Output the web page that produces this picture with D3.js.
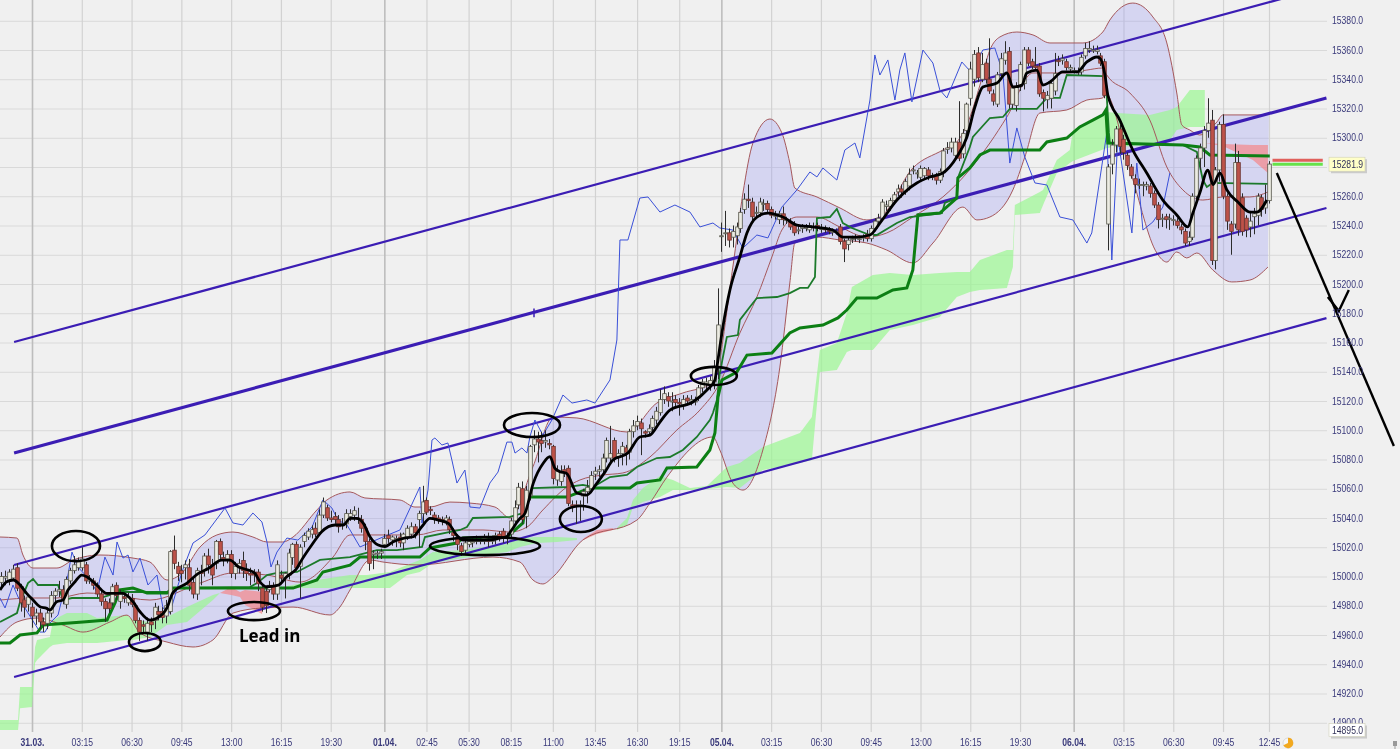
<!DOCTYPE html>
<html>
<head>
<meta charset="utf-8">
<script src="https://cdn.jsdelivr.net/npm/d3@7/dist/d3.min.js"></script>
<style>
html,body{margin:0;padding:0;background:#f0f0f0;overflow:hidden}
svg{display:block;filter:blur(0.35px)}
</style>
</head>
<body>
<svg id="chart" width="1400" height="749"></svg>
<script>
// All prices below are points above this base; time is session hours since 31.03. open
const priceBase = 15000;
const priceTicks = d3.range(14900, 15381, 20);
const timeTicks = [0,3.25,6.5,9.75,13,16.25,19.5,23,25.75,28.5,31.25,34,36.75,39.5,42.25,45,48.25,51.5,54.75,58,61.25,64.5,68,71.25,74.5,77.75,80.75];
const timeLabels = ["31.03.","03:15","06:30","09:45","13:00","16:15","19:30","01.04.","02:45","05:30","08:15","11:00","13:45","16:30","19:15","05.04.","03:15","06:30","09:45","13:00","16:15","19:30","06.04.","03:15","06:30","09:45","12:45"];
const dayLabels = ["31.03.","01.04.","05.04.","06.04."];

// candles every 15 min: [open, close, high, low]
const candlesBefore = [[-4,0,3,-8],[-1,0,4,-6],[-3,3,5,-6],[-1,5,8,-3],[6,-8,9,-10],[-7,-18,-5,-24],[-16,-21,-13,-28],[-19,-14,-12,-24]];
const candles3103 = [
[-21,-27,-18,-35],[-27,-25,-22,-33],[-25,-31,-22,-36],[-31,-33,-28,-38],[-32,-25,-22,-36],[-25,-13,-10,-28],[-13,-10,-8,-18],[-10,-9,-3,-14],[-9,-16,-6,-19],[-19,-2,0,-22],
[-3,4,6,-5],[4,8,14,2],[6,10,13,4],[6,12,20,4],[8,-3,10,-5],[-3,-2,1,-5],[-3,-6,-1,-9],[-6,-12,-4,-14],[-12,-17,-9,-20],[-17,-22,-15,-31],
[-18,-22,-15,-25],[-18,-7,-5,-20],[-6,-13,-4,-16],[-17,-11,-9,-22],[-14,-15,-11,-18],[-18,-14,-11,-20],[-15,-19,-12,-21],[-20,-30,-18,-32],[-30,-38,-28,-44],[-33,-34,-30,-38],
[-38,-32,-28,-44],[-31,-33,-28,-38],[-30,-21,-18,-36],[-24,-26,-20,-30],[-24,-28,-21,-32],[-27,-20,-16,-32],
[-24,17,18,-26],[18,9,28,5],[7,2,10,-3],[4,2,8,-4],[6,8,11,-2],[6,-6,12,-10],[-4,-12,-1,-15],[-12,4,6,-16],[3,2,8,-6],[4,14,16,0],
[14,8,19,2],[8,1,12,-6],[9,24,25,5],[24,15,26,12],[13,11,17,7],[12,15,18,9],[15,2,18,-1],[2,7,10,-2],[6,9,12,2],[11,4,17,-1],
[4,2,9,-3],[2,1,6,-6],[3,1,5,-4],[3,-5,5,-10],[-8,-21,-5,-24],[-10,-20,-8,-25],[-9,-6,-3,-11],[-6,-12,-4,-16],[-12,8,11,-16],[1,-1,4,-5],
[-1,2,3,-15],[1,16,19,-2],[13,22,23,8],[22,6,24,4],[7,20,22,-15],[24,28,30,20],[27,31,33,25],[29,32,35,26],[33,29,37,27],[30,42,46,28],
[42,51,54,40],[47,40,49,38],[40,39,45,37],[41,39,44,36],[39,34,42,30],[35,36,40,32],[36,43,46,33],[41,43,46,38],[42,45,48,38],
[40,39,47,36],[39,33,42,30],[33,24,36,18],[24,9,26,4],[15,16,18,5],[16,16,18,12],[16,17,19,12]];
const candles0104 = [
[22,26,29,20],[28,26,32,23],[25,27,28,21],[25,26,28,20],[27,23,30,20],[23,29,30,18],[27,33,35,25],[29,34,37,26],[34,30,36,26],[39,43,45,20],
[43,51,62,35],[52,44,54,42],[46,45,48,42],[42,39,44,36],[40,39,42,36],[39,38,41,35],[38,40,42,35],[39,32,41,29],[30,28,33,24],[27,22,29,18],
[21,17,23,14],[18,23,25,15],[22,24,26,20],[23,24,27,20],[24,25,28,22],[24,25,27,22],[24,26,29,22],[25,24,30,20],[24,25,28,22],[25,28,30,22],
[29,27,31,24],[31,26,33,23],[27,26,30,22],[29,38,40,27],[38,47,52,35],[49,61,64,46],[60,39,65,36],[41,59,62,33],[55,89,90,52],[90,94,100,85],
[94,92,99,78],[93,91,99,85],[92,93,100,88],[91,90,94,87],[89,67,90,63],[66,72,76,62],[65,72,76,62],[73,71,76,68],[74,50,76,48],[49,48,52,44],
[49,48,52,36],[48,49,52,38],
[55,58,60,45],[58,61,66,50],[60,69,72,57],[70,72,75,66],[72,73,76,68],[73,81,84,70],[81,93,95,78],[81,84,103,78],[93,81,95,78],[82,84,87,75],
[84,89,92,76],[88,85,90,76],[85,99,101,80],[99,103,107,95],[103,106,110,100],[105,101,108,83],[99,98,100,95],[99,101,104,96],[102,108,110,98],[107,113,116,104],
[112,121,128,110],[121,125,130,118],[123,120,126,116],[120,120,126,113],[121,119,124,116],[119,118,122,110],[117,121,124,114],[122,120,124,117],[120,121,124,117],[120,120,123,117],
[122,129,131,120],[129,133,135,126],[132,133,136,128],[131,134,137,127],[133,143,148,128],[143,172,197,135]];
const candles0504 = [
[233,233,242,222],[235,235,250,226],[235,230,238,225],[232,236,240,225],[233,239,242,227],[238,249,252,235],[251,258,262,248],[258,257,268,252],[256,246,259,243],[249,249,253,245],
[249,256,259,246],[255,255,258,250],[255,251,257,248],[251,247,253,245],[247,247,250,244],[244,248,250,241],[248,244,253,240],[244,244,246,241],[242,239,245,237],[240,235,243,233],
[237,237,240,234],[238,239,241,235],[238,239,241,236],[237,240,242,235],[239,239,242,236],[240,238,242,236],[238,238,241,235],[238,237,240,235],[237,236,239,234],[236,236,238,233],
[236,236,238,234],[239,229,241,227],[229,224,231,215],[227,230,232,223],[231,231,233,228],[232,232,234,229],[231,231,233,228],[232,232,234,229],[234,231,237,229],[231,238,240,229],
[238,243,245,236],[243,245,248,241],[245,256,258,243],[253,254,257,250],[253,257,259,250],[257,261,263,254],[263,265,268,260],[265,263,268,259],[263,270,272,261],
[267,275,279,264],[278,278,281,275],[276,276,278,272],[273,279,281,271],[274,279,280,272],[278,274,280,271],[274,273,276,271],[274,271,276,268],[271,277,279,269],[276,291,293,273],
[292,293,297,289],[293,297,300,290],[288,297,300,285],[297,286,325,284],[289,303,306,286],[305,323,324,298],[327,347,352,322],[340,357,360,335],[358,341,362,338],[340,350,358,338],
[351,340,354,337],[340,332,368,330],[330,325,333,322],[323,343,345,321],[344,354,358,340],[353,358,366,350],[359,323,362,320],[323,334,336,320],[322,335,338,318],[335,350,352,332],
[337,360,362,333],[360,351,362,349],[352,349,354,347],[349,348,362,346],[349,330,351,328],[331,327,333,318],[326,329,332,320],[327,337,339,320],[332,344,358,329],[353,352,356,349],
[353,354,357,350],[352,348,354,346],[347,348,350,345]];
const candles0604 = [
[346,346,348,344],[345,345,348,343],[345,355,357,343],[356,361,365,354],[360,361,366,358],[360,360,363,358],[359,360,363,357],[356,351,358,349],[352,329,354,327],
[241,280,282,223],[282,295,299,275],[295,306,308,290],[306,294,309,289],[299,290,302,285],[288,281,290,278],[280,274,282,272],[272,268,275,262],[268,268,272,265],[268,268,270,260],
[267,268,270,264],[267,262,269,259],[262,254,264,252],[254,244,256,238],[245,245,248,239],[246,244,248,238],[245,245,248,237],[244,244,247,240],[243,240,245,238],[239,237,241,234],
[236,228,238,226],[229,232,236,226],[232,260,262,230],[260,286,288,258],[286,293,296,278],[293,305,308,280],[305,310,327,300],[312,216,319,213],[216,278,280,210],[278,309,311,270],
[309,260,316,258],[260,243,262,237],[241,236,243,220],[241,283,296,238],[283,237,291,233],[259,236,262,233],[245,237,247,232],[239,243,250,232],[246,248,252,234],[247,260,262,240],
[259,251,261,246],[252,256,268,248],[257,282,284,255]];

// Bollinger bands: [hour, points]
const bandUpper = [[-2.09,27],[-.98,26.3],[-.59,14.7],[.07,5.8],[1.63,5.8],[2.68,11.3],[3.33,13.3],[4.44,14.7],[6.59,12.6],[7.7,9.9],[8.81,-2.4],[9.79,2.4],[10.97,20.2],[12.07,28.4],[13.12,30.4],[14.42,27],[15.34,23.6],[16.38,23.6],[17.04,27],[18.6,45.5],[19.25,52.3],[20.76,57.8],[21.73,53.7],[24.02,52.3],[25,47.5],[25.98,47.5],[27.28,50.9],[28.59,50.2],[30.22,47.5],[31.2,40],[32.7,75],[34,109],[35.57,108.4],[38.84,98.8],[40.79,118.6],[42.49,125.5],[44.45,132.3],[45.75,211.6],[46.41,262.2],[47.06,296.4],[48.17,312.8],[48.95,303.3],[49.47,282.7],[49.8,265.6],[51.24,259.5],[52.74,252],[54.5,243.8],[55.35,245.8],[57.5,279.3],[59.46,291.6],[60.37,297.1],[61.03,308.7],[61.88,336],[62.53,360],[63.18,368.9],[64.29,372.3],[65.34,370.3],[66.45,364.8],[68.6,364.8],[69.9,372.3],[70.36,380.5],[71.86,392.1],[73.17,382.6],[74.08,364.8],[74.73,330.6],[75.06,308.7],[75.58,305.3],[76.23,301.9],[77.35,310.8],[77.74,315.6],[80.35,315.6],[80.74,316.9]];
const bandLower = [[-2.09,-41.4],[-.98,-31.1],[.33,-28.4],[2.02,-33.2],[3.33,-38],[5.09,-31.1],[6.2,-26.4],[7.05,-38.6],[8.81,-44.8],[10.51,-48.2],[11.81,-43.4],[13.12,-25],[15.08,-21.5],[17.04,-20.9],[19.45,-26.3],[20.1,-20.9],[20.76,-9.2],[22.06,11.3],[22.91,9.9],[25.13,7.9],[30.09,13.3],[31.85,9.9],[32.7,-2.4],[33.35,-5.1],[34,-.4],[35.96,25],[39.49,38.6],[40.34,50.2],[41.45,68],[44.45,95.4],[44.9,86.5],[45.75,63.9],[46.41,59.1],[47.71,86.5],[48.82,143.2],[49.47,200.7],[49.8,228],[51.24,232.1],[52.74,230.1],[54.5,228],[55.8,223.2],[57.5,214.4],[58.81,228],[60.77,252.6],[61.68,243.8],[62.53,245.8],[64.03,264.3],[64.81,286.8],[65.79,316.9],[67.55,319],[68.86,325.8],[69.9,327.2],[70.04,330.6],[71.73,275.9],[73.43,221.2],[74.08,215],[74.73,221.9],[75.38,217.8],[76.04,221.2],[77.08,209.6],[78.32,201.4],[79.5,202.7],[80.68,211.6]];
const bandMiddle = [[-2.09,-16.1],[.07,-14.7],[1.63,-14.7],[3.59,-11.3],[5.29,-12.7],[7.7,-16.1],[10.97,-4.5],[13.12,2.4],[15.34,1],[17.49,-3.8],[19.65,13.3],[20.76,28.4],[23.37,28.4],[25.13,28.4],[26.83,31.8],[29.44,31.8],[31.2,30.4],[32.31,33.8],[33.35,45.5],[34.92,61.2],[35.77,66],[37.27,69.4],[38.57,70.8],[40.34,81.7],[42.1,100.2],[43.6,113.8],[44.9,132.3],[46.21,166.5],[47.32,191.1],[48.3,218.5],[48.95,236.9],[49.93,245.8],[51.24,245.8],[52.74,239],[54.5,232.1],[55.8,234.9],[57.5,245.8],[59.46,259.5],[61.03,275.9],[62.53,296.4],[63.64,314.2],[65.34,344.3],[67.55,344.3],[68.86,346.3],[69.9,347.7],[70.16,342.9],[71.67,330.6],[72.97,312.1],[74.08,280],[75.13,264.3],[76.43,257.4],[77.74,259.5],[79.5,259.5],[80.68,262.9]];

// fast moving average (black)
const fastAverage = [[-2.09,-9.3],[-1.65,-3.6],[-1.22,-2.4],[-.78,-5.8],[-.35,-11.5],[.07,-16.1],[.52,-20.7],[.96,-21.8],[1.17,-22.9],[1.61,-17.2],[2.02,-16.1],[2.35,-9.3],[2.81,-3.6],[3.24,1],[3.57,-.1],[4.22,-5.8],[4.87,-11.5],[5.53,-11.5],[5.94,-11.5],[6.59,-17.2],[7.05,-24.1],[7.7,-29.8],[8.14,-28.6],[8.81,-21.5],[9.2,-11],[10.12,-4.5],[10.86,2.1],[11.51,5.5],[12.38,11.2],[12.92,11.2],[13.47,6.7],[14.12,4.4],[14.56,2.1],[14.88,-3.6],[15.32,-7],[16.08,-5.9],[16.62,-.2],[17.28,5.5],[17.6,11.2],[18.26,21.5],[18.91,30.6],[19.78,35.2],[20.32,35.2],[20.76,39.7],[21.19,39.7],[21.63,36.3],[22.06,27.2],[22.6,21.5],[23.04,20.4],[23.58,23.8],[24.24,26.1],[24.89,27.2],[25.44,34],[25.98,39.7],[26.52,38.6],[27.18,36.3],[27.72,28.3],[28.15,24.9],[29.46,24.9],[30.98,27.2],[31.31,31.8],[31.85,39.7],[32.18,43.2],[32.72,63.7],[33.37,77.4],[33.81,81.9],[34.14,73.9],[34.46,71.7],[34.9,70.5],[35.57,57.1],[36.22,55.7],[36.88,63.9],[37.4,71.4],[37.92,79.6],[38.9,84.4],[39.68,95.4],[40.34,96.7],[40.99,105.6],[41.64,113.8],[43.14,119.3],[44.06,127.5],[44.58,134.4],[44.71,143.2],[45.1,170.6],[45.56,195.9],[46.21,218.5],[46.67,234.9],[47.32,245.8],[48.04,248.5],[49.02,245.8],[49.93,240.3],[50.98,239],[52.28,236.9],[52.93,232.1],[53.85,232.1],[54.7,233.5],[55.35,241.7],[56.46,257.4],[57.76,269.1],[58.61,273.2],[59.46,275.9],[60.37,286.8],[61.03,300.5],[61.55,321],[62.07,334.7],[62.99,337.4],[63.64,344.3],[64.03,334.7],[64.62,336],[64.94,344.3],[65.6,346.3],[65.99,336],[66.45,338.1],[67.29,345],[68.21,345],[68.86,351.8],[69.51,355.2],[69.71,354.5],[70.04,342.9],[70.23,329.2],[71.01,312.1],[71.86,291.6],[72.77,275.9],[73.82,257.4],[74.73,247.2],[75.45,239],[75.78,248.5],[76.23,262.2],[76.76,277.9],[77.1,268],[77.54,275.9],[78,264.3],[78.72,256.1],[79.5,249.2],[79.96,249.2],[80.61,257.4]];

// Ichimoku base line (thick green), conversion line (thin green), lagging span (blue)
const baseLine = [[-2.09,-45.5],[-1.44,-45.5],[-.78,-40],[.33,-38.6],[.72,-33.2],[3.33,-31.1],[4.9,-29.8],[5.42,-18.1],[5.74,-9.2],[6.59,-7.9],[7.51,-11.3],[8.81,-11.3],[9.2,-7.9],[17.04,-7.9],[18.6,-2.4],[18.99,3.1],[20.76,7.8],[21.41,13.3],[25.32,13.3],[25.98,19.5],[27.74,22.9],[28.13,26.3],[31,27],[32.05,36.6],[32.31,54.3],[34.92,54.3],[36.42,60.5],[39.03,60.5],[39.49,63.9],[40.99,66],[41.45,74.2],[43.4,74.9],[44.25,86.5],[44.58,98.1],[44.78,122.7],[45.04,134.4],[46.01,139.8],[46.67,151.4],[48.3,152.8],[49.47,166.5],[50.13,169.9],[51.63,171.9],[52.61,176.8],[53.19,182.2],[53.85,190.4],[55.15,190.4],[56.2,195.9],[57.11,197.3],[57.5,209.6],[57.83,247.2],[59.26,248.5],[60.37,258.8],[60.44,272.5],[61.22,279.3],[61.88,288.2],[62.53,291.6],[65.79,291.6],[66.25,297.1],[67.55,299.8],[68.4,307.4],[69.25,312.1],[69.9,315.6],[70.1,319],[70.23,296.4],[75.13,295],[76.23,293.7],[76.89,288.2],[80.8,287.5]];
const conversionLine = [[-2.09,-31.1],[-.98,-25],[-.78,-17.5],[-.26,-4.5],[.07,-1.7],[.39,-5.8],[1.7,-5.8],[2.02,-16.1],[2.61,-14.7],[4.44,-14.7],[5.74,-10.6],[9,-10.6],[9.2,-7.9],[14.23,-7.2],[14.69,-4.5],[15.34,1],[15.99,2.4],[17.3,3.1],[18.8,11.3],[20.76,13.3],[22.52,18.1],[23.82,18.1],[25.46,20.2],[25.65,27],[27.94,31.8],[28.39,33.8],[28.78,40],[31.2,40.7],[32.05,43.4],[32.5,57.1],[32.7,60.5],[34.92,61.2],[35.96,62.6],[36.62,61.2],[37.73,68],[38.84,69.4],[39.49,74.9],[40.79,81],[41.64,81.7],[42.49,86.5],[43.4,95.4],[44.25,107],[44.45,111.8],[44.71,120.7],[44.9,139.1],[45.36,163.8],[46.08,165.1],[46.21,175.4],[46.86,184.3],[47.32,190.4],[48.63,191.1],[49.47,193.8],[50.13,197.3],[50.65,197.3],[51.11,204.8],[51.24,245.1],[52.09,245.8],[52.54,251.3],[52.93,241.7],[53.52,238.3],[54.7,233.5],[55.15,233.5],[56.46,241.7],[57.31,245.8],[59.4,248.5],[59.59,255.4],[60.37,258.8],[60.44,272.5],[61.22,293.7],[61.42,300.5],[62.53,313.5],[63.38,314.2],[63.83,319.7],[65.6,319.7],[66.25,327.2],[67.1,327.2],[67.55,342.9],[69.9,342.2],[70.16,327.9],[70.3,303.3],[70.36,296.4],[75.13,295],[76.04,290.3],[76.43,271.1],[76.69,266.3],[77.08,269.1],[80.68,268.4]];
const laggingSpan = [[-2.09,-14.7],[-1.76,-21.5],[-1.24,-5.8],[-.91,-14],[.52,-38],[.85,-38],[1.17,-31.8],[1.7,-26.3],[2.02,-12.7],[2.35,1],[2.61,16.7],[2.99,6.5],[3.79,-2.4],[4.24,-10.6],[4.76,13.3],[5.29,1],[5.55,23.6],[5.94,12.6],[6.27,14.7],[6.59,3.1],[7.05,12.6],[7.57,-5.8],[8.16,1],[8.55,-21.5],[9,-25],[9.79,3.1],[10.51,22.9],[11.29,28.4],[12.6,46.8],[13.12,36.6],[13.77,35.2],[14.42,43.4],[15.01,37.3],[15.34,23.6],[15.6,6.5],[15.99,16.7],[16.64,26.3],[17.36,24.9],[18.28,33.8],[18.99,52.3],[19.58,46.8],[19.97,38.6],[20.56,35.2],[20.76,31.8],[21.41,20.2],[22.91,27],[24.02,31.8],[25.32,61.2],[25.46,36.6],[25.85,59.1],[26.11,93.3],[26.3,94.7],[26.76,89.9],[27.15,91.3],[27.41,79.6],[27.74,63.9],[28.26,72.8],[28.59,47.5],[29.24,46.8],[29.89,63.9],[30.42,71.4],[31,91.9],[31.33,91.9],[31.53,84.4],[31.98,87.9],[32.31,84.4],[32.5,95.4],[32.83,107],[33.35,96.7],[33.94,107],[34.66,124.1],[35.25,118.6],[36.22,120.7],[36.75,118.6],[37.73,134.4],[38.18,161.7],[38.38,230.1],[38.9,230.1],[39.68,258.8],[40.21,259.5],[40.99,249.2],[41.97,254],[42.95,249.2],[43.6,239],[44.45,241.7],[44.9,238.3],[45.75,236.9],[46.41,224.6],[47.32,233.5],[48.04,231.5],[48.95,252.6],[49.93,264.3],[50.78,276.6],[51.24,273.2],[51.63,279.3],[52.54,271.1],[53.06,291.6],[53.72,296.4],[54.04,286.2],[54.7,325.8],[55.02,356.6],[55.35,342.9],[55.87,353.2],[56.33,325.8],[56.65,346.3],[56.98,358],[57.44,324.5],[58.16,360],[58.81,351.1],[59.26,332.7],[59.72,327.2],[60.7,351.8],[61.35,344.3],[62.07,360],[62.85,361.4],[63.38,344.3],[63.83,282.7],[64.29,306.7],[64.81,286.8],[65.47,269.1],[66.25,267.7],[67.1,245.8],[67.95,243.8],[68.86,228],[69.18,234.9],[70.16,303.3],[70.49,216.4],[70.88,300.5],[71.8,234.9],[72.12,282.7],[72.52,236.9],[73.17,242.4],[73.82,252.6],[74.28,275.9]];

// Ichimoku cloud pieces: [hour, top, bottom]
const cloudGreen1 = [[-2.09,-98.1,-105],[-.91,-98.1,-105],[-.78,-75.6,-90],[0,-75.6,-89.3],[.2,-48.2,-59.2],[.33,-43.4,-57.1],[1.17,-41.4,-48.2],[1.37,-29.8,-46.8],[2.28,-25,-45.5],[3.59,-25,-45.5],[4.24,-28.4,-45.5],[6.2,-26.3,-43.4],[6.59,-29.8,-43.4],[7.7,-31.1,-41.4],[8.81,-27.7,-33.2],[10.12,-20.9,-31.1],[11.81,-12.7,-16.1],[12.27,-11.3,-11.3]];
const cloudRed1 = [[12.27,-11.3,-11.3],[13,-7.2,-12.7],[13.58,-10.6,-14],[13.9,-9.2,-19.5],[14.55,-9.9,-22.9],[15.01,-10.6,-25.7],[15.27,-13.4,-14]];
const cloudGreen2 = [[15.27,-9.2,-9.2],[16.38,-7.2,-7.9],[18.6,-2.4,-7.9],[20.76,1,-7.9],[21.87,1,-7.9],[23.37,3.1,-7.9],[24.48,7.9,1],[25.32,11.3,3.1],[26.17,16.7,9.2],[28.13,18.1,12.6],[31,22.2,16.7],[31.85,26.3,20.2],[32.96,27,22.9],[34.27,27,23.6],[35.57,26.3,25]];
const cloudRed2 = [[36,26,25],[36.88,31.8,29],[37.92,33.2,31.8]];
const cloudGreen3 = [[38.18,33.2,31.8],[38.84,40,35.2],[39.23,52.3,47.5],[39.88,60.5,50.9],[40.99,68.7,54.4],[41.84,66,59.1],[42.95,60.5,59.1],[44.06,61.9,59.8],[45.36,74.9,61.2],[46.21,77.6,60.5],[47.71,88.5,72.8],[50.13,98.1,77.6],[50.91,109,79.6],[51.43,154.9,139.8],[52.54,159.7,141.2],[53.19,180.2,153.5],[53.52,197.9,154.9],[54.89,206.2,154.9],[56,207.5,168.5],[57.5,206.2,171.9],[59.26,207.5,177.4],[60.37,208.2,191.1],[61.22,208.2,194.5],[61.88,216.4,195.9],[63.64,223.2,197.3],[64.03,223.2,211.6],[64.16,254,247.2],[65.79,262.9,248.5],[66,264.3,254],[66.9,284.8,275.9],[67.75,291.6,282.7],[67.95,305.3,284.1],[70.16,317.6,293],[70.82,316.9,293.7],[72.97,315.6,295],[74.28,319,298.5],[74.73,321,305.3],[75.58,332.7,307.4],[76.56,332.7,307.4]];
const cloudRed3 = [[76.56,296.4,296.4],[77.74,295.7,294.4],[79.7,295,284.8],[80.68,295,275.9]];

// parallel trend channels: [start hour, start points, end hour, end points]
const channels = [[-1.17,160.3,84.5,403.3],[-1.17,84.4,84.5,327.2],[-1.17,7.9,84.5,252],[-1.17,-68.7,84.5,176.7]];
const channelWidths = [2.2,3.2,2.2,2.2];

// hand-drawn annotations: [hour, points, hour radius, points radius]
const ellipses = [[2.87,20.8,1.57,10.3],[7.37,-44.8,1.04,6.2],[14.49,-23.6,1.7,6.2],[29.57,20.8,3.59,6.2],[35.83,39.3,1.37,8.9],[32.64,103.6,1.83,8.2],[44.51,137.1,1.5,6.2]];
const arrowShaft = [[81.26,275.9],[88.9,89.2]];
const arrowHead = [[84.59,191.1],[85.31,181.5],[85.96,195.9]];
const leadInLabel = ["Lead in", 13.51, -44.8];
const lastPrice = 15281.9;
const lowPrice = 14895.0;
const lastPriceLines = [[284.6,"#e0605c"],[281.9,"#66e24a"]];
const lastPriceSpan = [80.98,84.26];

const svg = d3.select("#chart");
const x = d3.scaleLinear().domain([0,80.75]).range([32,1269]);
const y = d3.scaleLinear().domain([14900,15380]).range([722.75,20.75]);
const py = v => y(priceBase + v);
const fontFam = "'Liberation Sans', Arial, sans-serif";
const left = 0, gridRight = 1327, gridBottom = 732, squeeze = 0.86;
const narrow = function(){
  this.setAttribute("textLength", this.getComputedTextLength()*squeeze);
  this.setAttribute("lengthAdjust","spacingAndGlyphs");
};

svg.append("rect").attr("width",1400).attr("height",749).attr("fill","#f0f0f0");

// grid via axes
const gridY = svg.append("g").call(d3.axisLeft(y).tickValues(priceTicks).tickSize(-gridRight).tickFormat(""))
  .attr("transform",`translate(${left},0)`);
gridY.select(".domain").remove();
gridY.selectAll("line").attr("stroke","#d9d9d9").attr("stroke-width",1.2);
const gridX = svg.append("g").call(d3.axisBottom(x).tickValues(timeTicks).tickSize(-gridBottom).tickFormat(""))
  .attr("transform",`translate(0,${gridBottom})`);
gridX.select(".domain").remove();
gridX.selectAll("line")
  .attr("stroke",(d,i)=>dayLabels.includes(timeLabels[i])?"#bdbdbd":"#d2d2d2")
  .attr("stroke-width",(d,i)=>dayLabels.includes(timeLabels[i])?1.6:1.2);

// bollinger fill: built from upper and reversed lower
const bandLine = d3.line().x(d=>x(d[0])).y(d=>py(d[1])).curve(d3.curveMonotoneX);
const upperPath = bandLine(bandUpper);
const lowerRev = bandLine(bandLower.slice().reverse());
svg.append("path").attr("d",upperPath + "L" + lowerRev.slice(1) + "Z").attr("fill","#9a9af2").attr("fill-opacity",0.32);

// clouds
const cloudArea = d3.area().x(d=>x(d[0])).y0(d=>py(d[2])).y1(d=>py(d[1]));
[[cloudGreen1,"#9af792"],[cloudGreen2,"#9af792"],[cloudGreen3,"#9af792"],[cloudRed1,"#f38689"],[cloudRed2,"#f38689"],[cloudRed3,"#f38689"]].forEach(([rows,c])=>{
  svg.append("path").datum(rows).attr("d",cloudArea).attr("fill",c).attr("fill-opacity",0.7);
});

[bandUpper,bandLower,bandMiddle].forEach(rows=>{
  svg.append("path").datum(rows).attr("d",bandLine).attr("fill","none").attr("stroke","#a5585c").attr("stroke-width",1);
});

// channels
channels.forEach((c,i)=>{
  svg.append("line").attr("x1",x(c[0])).attr("y1",py(c[1])).attr("x2",x(c[2])).attr("y2",py(c[3]))
    .attr("stroke","#3b1db4").attr("stroke-width",channelWidths[i]);
});
svg.append("line").attr("x1",x(32.77)).attr("x2",x(32.77)).attr("y1",py(183.2)).attr("y2",py(177.2)).attr("stroke","#3b1db4").attr("stroke-width",1.5);

// lines
const stepLine = d3.line().x(d=>x(d[0])).y(d=>py(d[1]));
svg.append("path").datum(laggingSpan).attr("d",stepLine).attr("fill","none").attr("stroke","#3a50d8").attr("stroke-width",1);
svg.append("path").datum(conversionLine).attr("d",stepLine).attr("fill","none").attr("stroke","#1b7a2a").attr("stroke-width",1.8);
svg.append("path").datum(baseLine).attr("d",stepLine).attr("fill","none").attr("stroke","#0c7f14").attr("stroke-width",3);

// candles
const candleRows = [...candlesBefore,...candles3103,...candles0104,...candles0504,...candles0604];
const candleHour = i => (i-8)/4;
const gCandle = svg.append("g").selectAll("g").data(candleRows).join("g");
gCandle.append("line").attr("x1",(d,i)=>Math.round(x(candleHour(i)))+.5).attr("x2",(d,i)=>Math.round(x(candleHour(i)))+.5)
  .attr("y1",d=>py(d[2])).attr("y2",d=>py(d[3])).attr("stroke","#2c2c2c").attr("stroke-width",1);
gCandle.append("rect").attr("x",(d,i)=>Math.round(x(candleHour(i)))-1.3).attr("width",3.6)
  .attr("y",d=>py(Math.max(d[0],d[1]))).attr("height",d=>Math.max(1,Math.abs(py(d[0])-py(d[1]))))
  .attr("fill",d=>d[1]>=d[0]?"#ecebe2":"#bd5249").attr("stroke",d=>d[1]>=d[0]?"#55554a":"#6a3430").attr("stroke-width",.8);

// fast average
svg.append("path").datum(fastAverage).attr("d",bandLine).attr("fill","none").attr("stroke","#000").attr("stroke-width",2.8);

// annotations
ellipses.forEach(e=>{
  svg.append("ellipse").attr("cx",x(e[0])).attr("cy",py(e[1]))
    .attr("rx",x(e[0]+e[2])-x(e[0])).attr("ry",py(e[1]-e[3])-py(e[1]))
    .attr("fill","none").attr("stroke","#000").attr("stroke-width",2.6);
});
svg.append("path").datum(arrowShaft).attr("d",stepLine).attr("stroke","#000").attr("stroke-width",2.4).attr("fill","none");
svg.append("path").datum(arrowHead).attr("d",stepLine).attr("stroke","#000").attr("stroke-width",2.4).attr("fill","none");
svg.append("text").text(leadInLabel[0]).attr("x",x(leadInLabel[1])).attr("y",py(leadInLabel[2]))
  .attr("font-family","'Open Sans',sans-serif").attr("font-weight",700).attr("font-size",17).attr("fill","#000");

// last price markers
lastPriceLines.forEach(l=>{
  svg.append("line").attr("x1",x(lastPriceSpan[0])).attr("x2",x(lastPriceSpan[1])).attr("y1",py(l[0])).attr("y2",py(l[0]))
    .attr("stroke",l[1]).attr("stroke-width",3);
});

// axes
const axisY = svg.append("g").attr("transform","translate(1332,0)")
  .call(d3.axisRight(y).tickValues(priceTicks).tickSize(0).tickPadding(0).tickFormat(d3.format(".1f")));
axisY.select(".domain").remove();
axisY.selectAll("text").attr("font-family",fontFam).attr("font-size",10).attr("fill","#39397a").each(narrow);
const axisX = svg.append("g").attr("transform","translate(0,736)")
  .call(d3.axisBottom(x).tickValues(timeTicks).tickSize(0).tickPadding(3).tickFormat((d,i)=>timeLabels[i]));
axisX.select(".domain").remove();
axisX.selectAll("text").attr("font-family",fontFam).attr("font-size",10).attr("fill","#39397a")
  .attr("font-weight",(d,i)=>dayLabels.includes(timeLabels[i])?700:400).each(narrow);

// value tags
function tag(value,fill,boxH){
  const cy = y(value), w = 36, xx = 1329;
  svg.append("rect").attr("x",xx+2).attr("y",cy-boxH/2+2).attr("width",w).attr("height",boxH).attr("fill","#bbb").attr("opacity",.7);
  svg.append("rect").attr("x",xx).attr("y",cy-boxH/2).attr("width",w).attr("height",boxH).attr("fill",fill).attr("stroke","#cfcfb8").attr("stroke-width",.6);
  svg.append("text").text(d3.format(".1f")(value)).attr("x",xx+3).attr("y",cy+4).attr("font-family",fontFam).attr("font-size",10).attr("fill","#33335a").each(narrow);
}
tag(lastPrice,"#ffffc8",14);
tag(lowPrice,"#ffffff",13);

// moon / session icon, pin
const mx = 1288, my = 743;
svg.append("circle").attr("cx",mx).attr("cy",my).attr("r",5).attr("fill","#f6f6f6").attr("stroke","#c8c8c8").attr("stroke-width",.6);
svg.append("path").attr("transform",`translate(${mx},${my})`)
  .attr("d",d3.arc().innerRadius(0).outerRadius(5.2).startAngle(0).endAngle(Math.PI*1.35)()).attr("fill","#f2a91f");
svg.append("rect").attr("x",1393).attr("y",741).attr("width",4).attr("height",5).attr("fill","#999");
svg.append("line").attr("x1",1395).attr("x2",1395).attr("y1",746).attr("y2",749).attr("stroke","#999");
</script>
</body>
</html>
